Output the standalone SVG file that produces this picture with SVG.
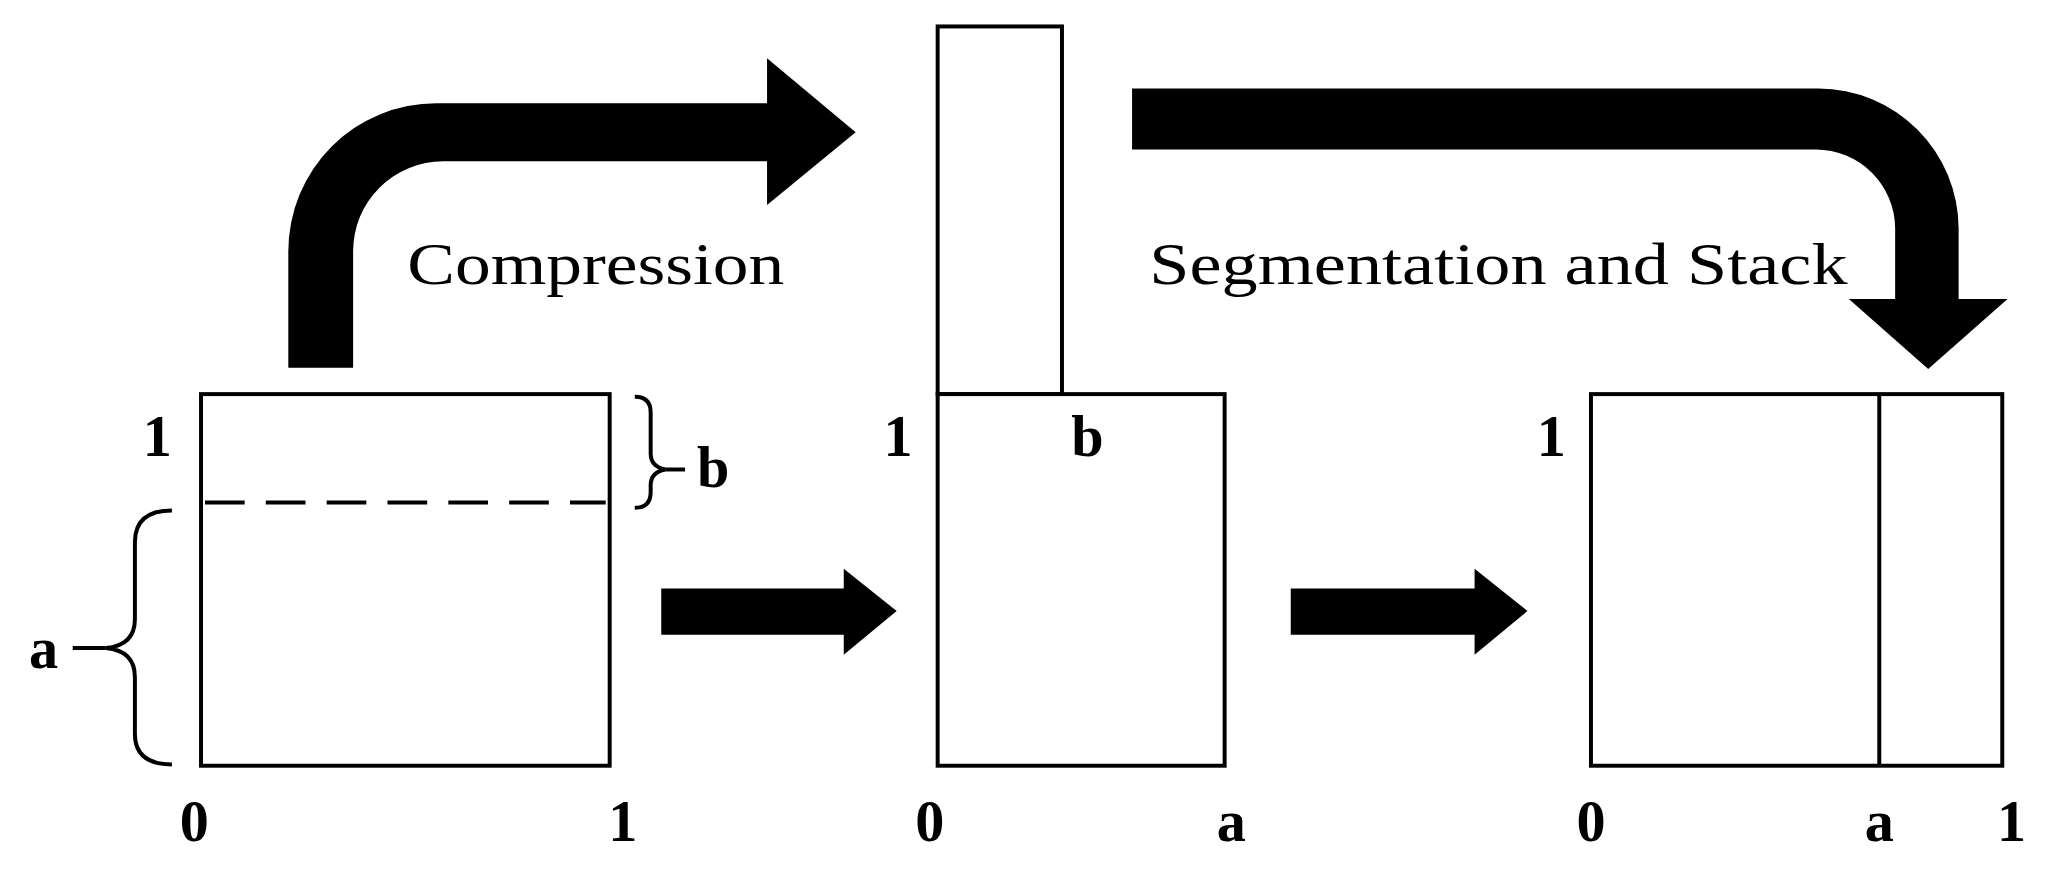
<svg xmlns="http://www.w3.org/2000/svg" width="2063" height="872" viewBox="0 0 2063 872">
<style>
.box{fill:#fff;stroke:#000;stroke-width:3}
.ln{fill:none;stroke:#000;stroke-width:3}
.ar{fill:#000}
.lb{font-family:"Liberation Serif",serif;font-weight:bold;font-size:44px;fill:#000}
.cap{font-family:"Liberation Serif",serif;font-size:44px;fill:#000}
</style>
<rect width="2063" height="872" fill="#fff"/>
<g transform="scale(1.3225)">
<g id="left">
<rect class="box" x="152" y="298" width="309" height="281"/>
<line class="ln" x1="155" y1="380" x2="458" y2="380" stroke-dasharray="30,16"/>
<path class="ln" d="M480,300 Q492,300 492,312 L492,343 Q492,353 503,355 Q492,357 492,367 L492,372 Q492,384 480,384"/>
<line class="ln" x1="503" y1="355" x2="518" y2="355"/>
<path class="ln" d="M130,386 Q102,386 102,410 L102,468 Q102,488 80,490 Q102,492 102,512 L102,555 Q102,578 130,578"/>
<line class="ln" x1="55" y1="490" x2="80" y2="490"/>
<text class="lb" x="108" y="345">1</text>
<text class="lb" x="527" y="368">b</text>
<text class="lb" x="22" y="505">a</text>
<text class="lb" x="136" y="636">0</text>
<text class="lb" x="460" y="636">1</text>
</g>
<g id="middle">
<rect class="box" x="709" y="20" width="94" height="278"/>
<rect class="box" x="709" y="298" width="217" height="281"/>
<text class="lb" x="668" y="345">1</text>
<text class="lb" x="810" y="345">b</text>
<text class="lb" x="692" y="636">0</text>
<text class="lb" x="920" y="636">a</text>
</g>
<g id="right">
<rect class="box" x="1203" y="298" width="311" height="281"/>
<line class="ln" x1="1421" y1="298" x2="1421" y2="579"/>
<text class="lb" x="1162" y="345">1</text>
<text class="lb" x="1192" y="636">0</text>
<text class="lb" x="1410" y="636">a</text>
<text class="lb" x="1510" y="636">1</text>
</g>
<g id="connectors">
<path class="ar" d="M218,278 L218,190 A112,112 0 0 1 330,78 L580,78 L580,44 L647,100 L580,155 L580,122 L335,122 A68,68 0 0 0 267,190 L267,278 Z"/>
<path class="ar" d="M856,67 L1375,67 A106,106 0 0 1 1481,173 L1481,226 L1518,226 L1458,279 L1398,226 L1433,226 L1433,173 A60,60 0 0 0 1373,113 L856,113 Z"/>
<path class="ar" d="M500,445 L638,445 L638,430 L678,462 L638,495 L638,480 L500,480 Z"/>
<path class="ar" d="M976,445 L1115,445 L1115,430 L1155,462 L1115,495 L1115,480 L976,480 Z"/>
<text class="cap" x="308" y="215" textLength="285" lengthAdjust="spacingAndGlyphs">Compression</text>
<text class="cap" x="869" y="215" textLength="528" lengthAdjust="spacingAndGlyphs">Segmentation and Stack</text>
</g>
</g>
</svg>
